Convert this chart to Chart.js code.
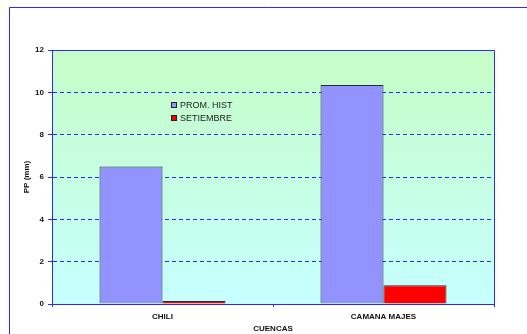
<!DOCTYPE html>
<html>
<head>
<meta charset="utf-8">
<script src="https://cdn.jsdelivr.net/npm/chart.js@4/dist/chart.umd.min.js"></script>
<style>
  html, body { margin: 0; padding: 0; background: #ffffff; }
  #wrap { position: relative; width: 527px; height: 334px; }
</style>
</head>
<body>
<div id="wrap"><canvas id="c" width="527" height="334"></canvas></div>
<script>
// Precipitación por cuenca (mm)
const categories = ['CHILI', 'CAMANA MAJES'];
const promHist = [6.5, 10.35];
const setiembre = [0.14, 0.88];
const seriesNames = ['PROM. HIST', 'SETIEMBRE'];
const yMin = 0, yMax = 12, yStep = 2;

const BLUE = '#2b2bf5';
const FONT = 'Arial, "Liberation Sans", sans-serif';

// Marco exterior, fondo degradado del área de trazado y su borde
const framePlugin = {
  id: 'frame',
  beforeDraw(chart) {
    const { ctx, chartArea: a } = chart;
    ctx.save();
    ctx.fillStyle = '#ffffff';
    ctx.fillRect(0, 0, chart.width, chart.height);
    ctx.strokeStyle = BLUE;
    ctx.lineWidth = 1;
    ctx.beginPath();
    ctx.moveTo(9.5, chart.height);
    ctx.lineTo(9.5, 7.5);
    ctx.lineTo(chart.width, 7.5);
    ctx.stroke();
    const g = ctx.createLinearGradient(0, a.top, 0, a.bottom);
    g.addColorStop(0, '#c6fdc6');
    g.addColorStop(1, '#c6ffff');
    ctx.fillStyle = g;
    ctx.fillRect(a.left, a.top, a.right - a.left, a.bottom - a.top);
    ctx.restore();
  },
  afterDatasetsDraw(chart) {
    const { ctx, chartArea: a } = chart;
    ctx.save();
    ctx.strokeStyle = BLUE;
    ctx.lineWidth = 1;
    ctx.beginPath();
    ctx.moveTo(Math.round(a.left) + 0.5, Math.round(a.top) + 0.5);
    ctx.lineTo(Math.round(a.right) + 0.5, Math.round(a.top) + 0.5);
    ctx.lineTo(Math.round(a.right) + 0.5, Math.round(a.bottom) + 3);
    ctx.stroke();
    ctx.restore();
  }
};

// Leyenda dentro del área de trazado
const innerLegend = {
  id: 'innerLegend',
  afterDraw(chart) {
    const { ctx, chartArea: a } = chart;
    ctx.save();
    ctx.font = '9px ' + FONT;
    ctx.textBaseline = 'middle';
    ctx.textAlign = 'left';
    chart.data.datasets.forEach((ds, i) => {
      const x = a.left + 119;
      const y = a.top + 55 + i * 13;
      ctx.fillStyle = ds.backgroundColor;
      ctx.fillRect(x, y - 3, 6, 6);
      ctx.strokeStyle = '#222222';
      ctx.lineWidth = 1;
      ctx.strokeRect(x + 0.5, y - 2.5, 5, 5);
      ctx.fillStyle = '#222222';
      ctx.fillText(ds.label, x + 9, y + 0.5);
    });
    ctx.restore();
  }
};

new Chart(document.getElementById('c'), {
  type: 'bar',
  data: {
    labels: categories,
    datasets: [
      {
        label: seriesNames[0],
        data: promHist,
        backgroundColor: '#9393ff',
        borderColor: '#2a2a2a',
        borderWidth: 1,
        borderSkipped: 'bottom'
      },
      {
        label: seriesNames[1],
        data: setiembre,
        backgroundColor: '#ff0000',
        borderColor: '#2a2a2a',
        borderWidth: 1,
        borderSkipped: 'bottom'
      }
    ]
  },
  options: {
    responsive: false,
    animation: false,
    devicePixelRatio: 1,
    layout: { padding: { left: 0, top: 50, right: 33, bottom: 0 } },
    datasets: { bar: { categoryPercentage: 0.57, barPercentage: 1.0 } },
    plugins: {
      legend: { display: false },
      tooltip: { enabled: false }
    },
    scales: {
      x: {
        offset: true,
        afterFit(scale) { scale.height = 30; },
        grid: {
          display: true,
          offset: true,
          drawOnChartArea: false,
          drawTicks: true,
          tickLength: 3,
          tickColor: BLUE,
          lineWidth: 1
        },
        border: { display: true, color: BLUE, width: 1 },
        ticks: {
          color: '#111111',
          font: { family: FONT, size: 8, weight: 'bold' },
          padding: 5,
          maxRotation: 0
        },
        title: {
          display: true,
          text: 'CUENCAS',
          color: '#111111',
          font: { family: FONT, size: 8, weight: 'bold' },
          padding: { top: -1, bottom: 0 }
        }
      },
      y: {
        min: yMin,
        max: yMax,
        afterFit(scale) { scale.width = 52; },
        grid: {
          color: BLUE,
          lineWidth: 1,
          drawTicks: true,
          tickLength: 4,
          tickColor: BLUE,
          tickBorderDash: []
        },
        border: { display: true, color: BLUE, width: 1, dash: [4, 3] },
        ticks: {
          stepSize: yStep,
          color: '#111111',
          font: { family: FONT, size: 8, weight: 'bold' },
          padding: 4
        },
        title: {
          display: true,
          text: 'PP (mm)',
          color: '#111111',
          font: { family: FONT, size: 8, weight: 'bold' },
          padding: { top: 22, bottom: 0 }
        }
      }
    }
  },
  plugins: [framePlugin, innerLegend]
});
</script>
</body>
</html>
